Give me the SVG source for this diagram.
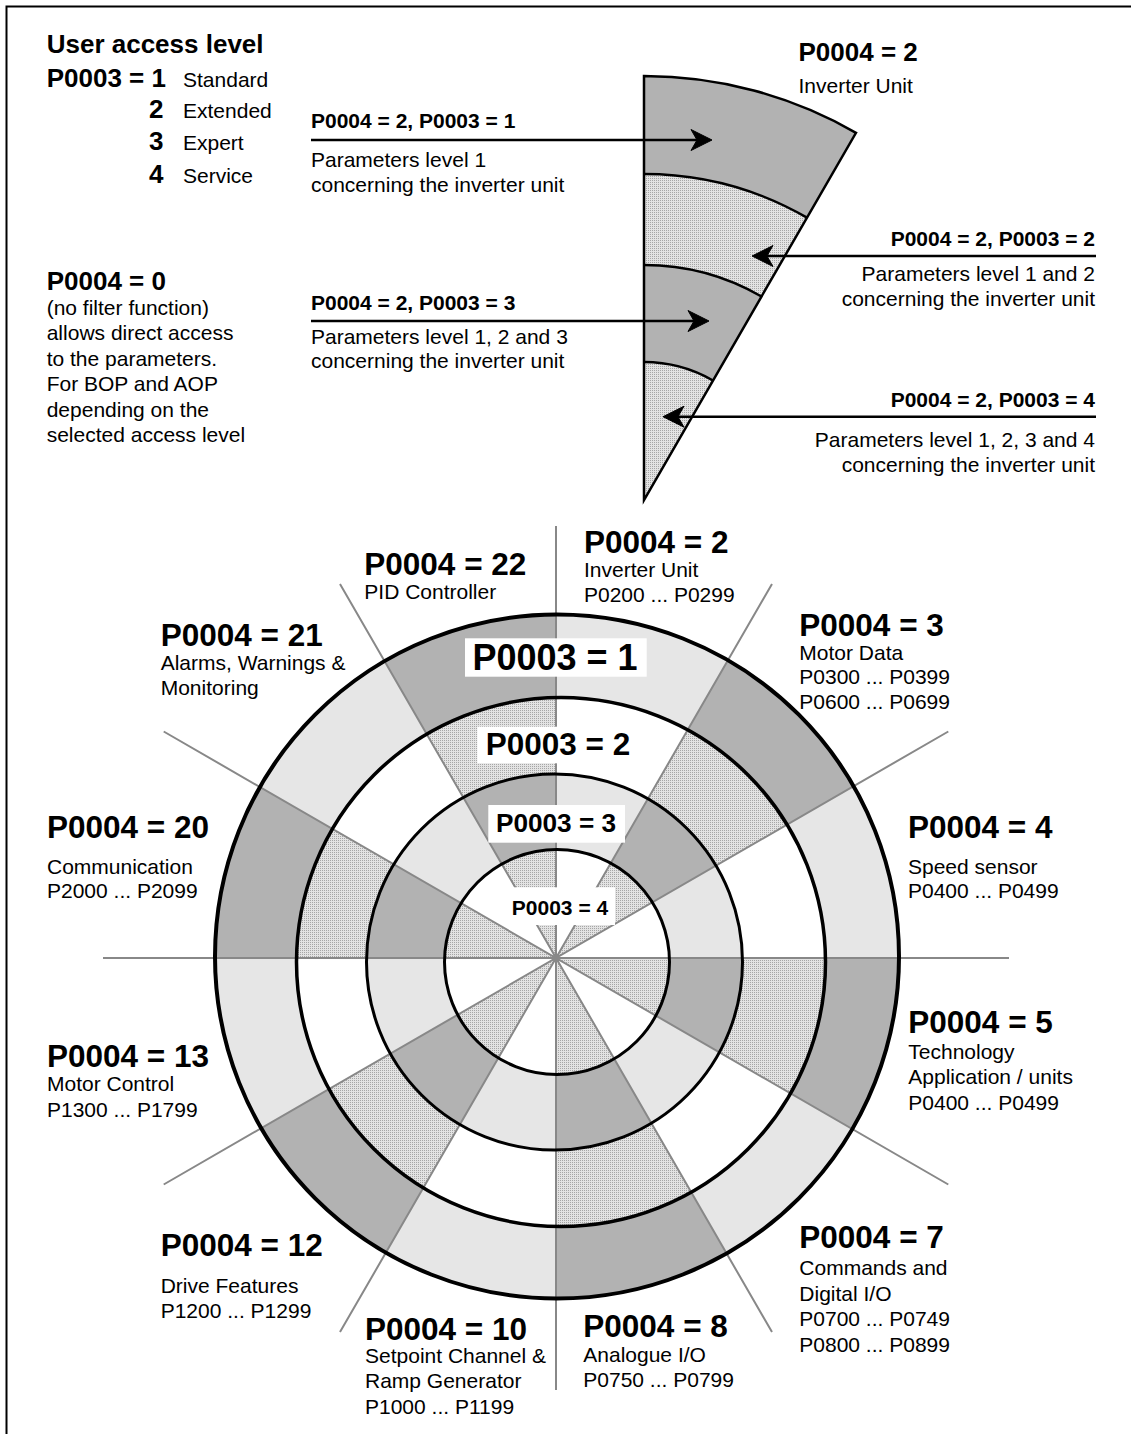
<svg xmlns="http://www.w3.org/2000/svg" width="1131" height="1434" viewBox="0 0 1131 1434">
<style>
text{font-family:'Liberation Sans',Arial,Helvetica,sans-serif;font-size:21px;fill:#000}
.b{font-weight:bold}
.h{font-weight:bold;font-size:31.5px}
.h26{font-weight:bold;font-size:26px}
.e{text-anchor:end}
.m{text-anchor:middle}
.ray{stroke:#888;stroke-width:2;fill:none}
.ring{fill:none;stroke:#000}
.arrow{stroke:#000;stroke-width:2.5;fill:none;marker-end:url(#ah)}
.dark{fill:#b2b2b2}
.light{fill:#e6e6e6}
.dot{fill:url(#dots)}
.box{fill:#fff}
</style>
<defs>
<pattern id="dots" width="2" height="2" patternUnits="userSpaceOnUse"><rect width="2" height="2" fill="#e3e3e3"/><rect width="1" height="1" fill="#a6a6a6"/></pattern>
<marker id="ah" viewBox="-20 -12 26 24" refX="0" refY="0" markerWidth="26" markerHeight="24" markerUnits="userSpaceOnUse" orient="auto">
<path d="M4,0 L-17,-10.5 L-11,0 L-17,10.5 Z" fill="#000" stroke="#000" stroke-width="1"/>
</marker>
<path id="odd" d="M556,958 L756,611.59 L902.41,758 Z M556,958 L956,958 L902.41,1158 Z M556,958 L756,1304.41 L556,1358 Z M556,958 L356,1304.41 L209.59,1158 Z M556,958 L156,958 L209.59,758 Z M556,958 L356,611.59 L556,558 Z"/>
<clipPath id="c1"><circle cx="557" cy="956.5" r="342"/></clipPath>
<clipPath id="c2"><circle cx="561" cy="962" r="264.5"/></clipPath>
<clipPath id="c3"><circle cx="554.5" cy="962" r="188"/></clipPath>
<clipPath id="c4"><circle cx="557" cy="962" r="112.5"/></clipPath>
</defs>
<rect width="1131" height="1434" fill="#fff"/>
<path d="M6.5,1434 V6.5 H1131" fill="none" stroke="#000" stroke-width="2"/>

<g id="legend">
<text x="46.7" y="53.3" class="h26">User access level</text>
<text x="46.7" y="87.3" class="h26">P0003 = 1</text>
<text x="183" y="87.3">Standard</text>
<text x="149" y="118.3" class="h26">2</text>
<text x="183" y="118.3">Extended</text>
<text x="149" y="150" class="h26">3</text>
<text x="183" y="150">Expert</text>
<text x="149" y="182.7" class="h26">4</text>
<text x="183" y="182.7">Service</text>
</g>

<g id="p0004-0">
<text x="46.7" y="290" class="h26">P0004 = 0</text>
<text x="46.7" y="315">(no filter function)</text>
<text x="46.7" y="340">allows direct access</text>
<text x="46.7" y="365.5">to the parameters.</text>
<text x="46.7" y="391">For BOP and AOP</text>
<text x="46.7" y="416.5">depending on the</text>
<text x="46.7" y="442">selected access level</text>
</g>

<g id="wedge">
<path d="M644,76 A424,424 0 0 1 856,132.8 L807,217.7 A326,326 0 0 0 644,174 Z" class="dark"/>
<path d="M644,174 A326,326 0 0 1 807,217.7 L761.5,296.5 A235,235 0 0 0 644,265 Z" class="dot"/>
<path d="M644,265 A235,235 0 0 1 761.5,296.5 L713,380.5 A138,138 0 0 0 644,362 Z" class="dark"/>
<path d="M644,362 A138,138 0 0 1 713,380.5 L644,500 Z" class="dot"/>
<path d="M644,174 A326,326 0 0 1 807,217.7 M644,265 A235,235 0 0 1 761.5,296.5 M644,362 A138,138 0 0 1 713,380.5" fill="none" stroke="#000" stroke-width="2.5"/>
<path d="M644,500 L644,76 A424,424 0 0 1 856,132.8 Z" fill="none" stroke="#000" stroke-width="2.5" stroke-linejoin="miter"/>
<text x="798.5" y="61" class="h26">P0004 = 2</text>
<text x="798.5" y="93.3">Inverter Unit</text>
</g>

<g id="connectors">
<path d="M311,140 H708" class="arrow"/>
<path d="M1096,256 H756" class="arrow"/>
<path d="M311,321 H705" class="arrow"/>
<path d="M1096,416.7 H667" class="arrow"/>
</g>

<g id="label-l1">
<text x="311" y="127.7" class="b">P0004 = 2, P0003 = 1</text>
<text x="311" y="166.7">Parameters level 1</text>
<text x="311" y="191.7">concerning the inverter unit</text>
</g>
<g id="label-l3">
<text x="311" y="310" class="b">P0004 = 2, P0003 = 3</text>
<text x="311" y="344.3">Parameters level 1, 2 and 3</text>
<text x="311" y="368.3">concerning the inverter unit</text>
</g>
<g id="label-l2">
<text x="1095" y="246" class="b e">P0004 = 2, P0003 = 2</text>
<text x="1095" y="281" class="e">Parameters level 1 and 2</text>
<text x="1095" y="305.5" class="e">concerning the inverter unit</text>
</g>
<g id="label-l4">
<text x="1095" y="406.7" class="b e">P0004 = 2, P0003 = 4</text>
<text x="1095" y="446.7" class="e">Parameters level 1, 2, 3 and 4</text>
<text x="1095" y="471.5" class="e">concerning the inverter unit</text>
</g>

<g id="wheel">
<circle cx="557" cy="956.5" r="342" class="light"/>
<use href="#odd" class="dark" clip-path="url(#c1)"/>
<circle cx="561" cy="962" r="264.5" fill="#fff"/>
<use href="#odd" class="dot" clip-path="url(#c2)"/>
<circle cx="554.5" cy="962" r="188" class="light"/>
<use href="#odd" class="dark" clip-path="url(#c3)"/>
<circle cx="557" cy="962" r="112.5" fill="#fff"/>
<use href="#odd" class="dot" clip-path="url(#c4)"/>
<path class="ray" d="M556,526 L556,1390 M772,583.9 L340,1332.1 M948.3,731.5 L163.7,1184.5 M1009,958 L103,958 M948.3,1184.5 L163.7,731.5 M772,1332.1 L340,583.9"/>
<circle cx="557" cy="956.5" r="342" class="ring" stroke-width="4"/>
<circle cx="561" cy="962" r="264.5" class="ring" stroke-width="3.5"/>
<circle cx="554.5" cy="962" r="188" class="ring" stroke-width="3"/>
<circle cx="557" cy="962" r="112.5" class="ring" stroke-width="3"/>
</g>

<g id="level1">
<rect x="465" y="638.3" width="181.7" height="38.4" class="box"/>
<text x="555" y="670" class="b m" style="font-size:36px">P0003 = 1</text>
</g>
<g id="level2">
<rect x="477.3" y="726.7" width="161" height="36.6" class="box"/>
<text x="558" y="755" class="b m" style="font-size:31.5px">P0003 = 2</text>
</g>
<g id="level3">
<rect x="488.3" y="805" width="136.7" height="37.7" class="box"/>
<text x="556" y="832.3" class="b m" style="font-size:26.2px">P0003 = 3</text>
</g>
<g id="level4">
<rect x="507.3" y="887.3" width="107.7" height="37.7" class="box"/>
<text x="560" y="915" class="b m">P0003 = 4</text>
</g>

<g id="s22">
<text x="364.3" y="575" class="h">P0004 = 22</text>
<text x="364.3" y="599.3">PID Controller</text>
</g>
<g id="s2">
<text x="584" y="552.7" class="h">P0004 = 2</text>
<text x="584" y="576.7">Inverter Unit</text>
<text x="584" y="601.7">P0200 ... P0299</text>
</g>
<g id="s3">
<text x="799.3" y="636" class="h">P0004 = 3</text>
<text x="799.3" y="660">Motor Data</text>
<text x="799.3" y="684.3">P0300 ... P0399</text>
<text x="799.3" y="709.3">P0600 ... P0699</text>
</g>
<g id="s4">
<text x="908" y="838.3" class="h">P0004 = 4</text>
<text x="908" y="874">Speed sensor</text>
<text x="908" y="898.3">P0400 ... P0499</text>
</g>
<g id="s5">
<text x="908.3" y="1032.7" class="h">P0004 = 5</text>
<text x="908.3" y="1059.3">Technology</text>
<text x="908.3" y="1084.3">Application / units</text>
<text x="908.3" y="1110">P0400 ... P0499</text>
</g>
<g id="s7">
<text x="799.3" y="1247.7" class="h">P0004 = 7</text>
<text x="799.3" y="1275">Commands and</text>
<text x="799.3" y="1300.7">Digital I/O</text>
<text x="799.3" y="1326">P0700 ... P0749</text>
<text x="799.3" y="1351.7">P0800 ... P0899</text>
</g>
<g id="s8">
<text x="583.3" y="1337" class="h">P0004 = 8</text>
<text x="583.3" y="1361.5">Analogue I/O</text>
<text x="583.3" y="1386.5">P0750 ... P0799</text>
</g>
<g id="s10">
<text x="365" y="1340" class="h">P0004 = 10</text>
<text x="365" y="1363.3">Setpoint Channel &amp;</text>
<text x="365" y="1388.3">Ramp Generator</text>
<text x="365" y="1414">P1000 ... P1199</text>
</g>
<g id="s12">
<text x="160.7" y="1255.7" class="h">P0004 = 12</text>
<text x="160.7" y="1292.7">Drive Features</text>
<text x="160.7" y="1318.3">P1200 ... P1299</text>
</g>
<g id="s13">
<text x="47" y="1066.7" class="h">P0004 = 13</text>
<text x="47" y="1090.7">Motor Control</text>
<text x="47" y="1116.7">P1300 ... P1799</text>
</g>
<g id="s20">
<text x="47" y="838.3" class="h">P0004 = 20</text>
<text x="47" y="874">Communication</text>
<text x="47" y="898.3">P2000 ... P2099</text>
</g>
<g id="s21">
<text x="160.7" y="646" class="h">P0004 = 21</text>
<text x="160.7" y="670">Alarms, Warnings &amp;</text>
<text x="160.7" y="695">Monitoring</text>
</g>
</svg>
